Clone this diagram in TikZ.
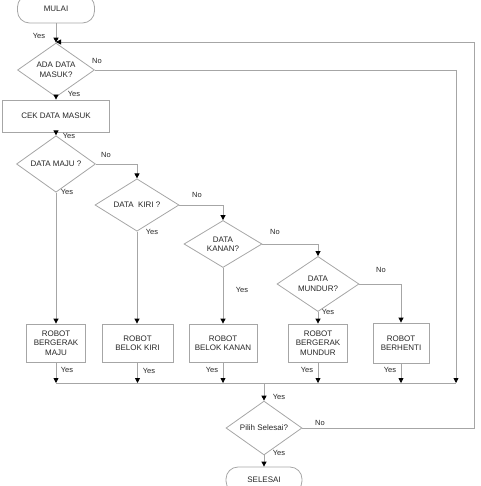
\documentclass[tikz,border=0pt]{standalone}
\usepackage{fontspec}
\setmainfont{Liberation Sans}
\usetikzlibrary{shapes.geometric,arrows.meta}

\tikzset{
  line/.style={draw=black!35, line width=0.8pt},
  arr/.style={line, -{Triangle[length=5pt,width=5pt,black]}},
  term/.style={draw=black!35, line width=0.8pt, rounded corners=12pt, minimum width=77pt, minimum height=28pt, inner sep=0pt, font=\fontsize{8}{9}\selectfont, text=black!85},
  proc/.style={draw=black!35, line width=0.8pt, minimum height=38pt, inner sep=0pt, align=center, font=\fontsize{8}{9.5}\selectfont, text=black!85},
  dec/.style={diamond, draw=black!35, line width=0.8pt, inner sep=0pt, align=center, font=\fontsize{8}{9.5}\selectfont, text=black!85},
  lbl/.style={inner sep=0pt, font=\fontsize{7.5}{8}\selectfont, text=black!85}
}

\begin{document}
\begin{tikzpicture}[x=1pt,y=-1pt]
\useasboundingbox (0,0) rectangle (480,486);
\clip (0,0) rectangle (480,486);

\node[term] (start) at (56,9) {MULAI};
\node[dec, minimum width=77pt, minimum height=38pt] (ada) at (56,70) {ADA DATA\\MASUK?};
\node[proc, minimum width=107pt, minimum height=32pt] (cek) at (56,116) {CEK DATA MASUK};
\node[dec, minimum width=79pt, minimum height=46pt] (maju) at (56,164) {DATA MAJU ?};
\node[dec, minimum width=84pt, minimum height=45pt] (kiri) at (137,205) {DATA\ \ KIRI ?};
\node[dec, minimum width=78pt, minimum height=44pt] (kanan) at (223,244) {DATA\\KANAN?};
\node[dec, minimum width=82pt, minimum height=47pt] (mundur) at (318,284) {DATA\\MUNDUR?};

\node[proc, minimum width=59pt] (aMaju) at (56,343) {ROBOT\\BERGERAK\\MAJU};
\node[proc, minimum width=71pt] (aKiri) at (137.5,343) {ROBOT\\BELOK KIRI};
\node[proc, minimum width=68pt] (aKanan) at (223,343) {ROBOT\\BELOK KANAN};
\node[proc, minimum width=59pt] (aMundur) at (318,343) {ROBOT\\BERGERAK\\MUNDUR};
\node[proc, minimum width=56pt, minimum height=40pt] (aStop) at (401,343) {ROBOT\\BERHENTI};

\node[dec, minimum width=76pt, minimum height=38pt] (pilih) at (264,428) {Pilih Selesai?};
\node[term, minimum width=76pt, minimum height=26pt] (end) at (264,480) {SELESAI};

\coordinate (j0) at (56,42);
\coordinate (r1) at (474,42);
\coordinate (r2) at (474,428);
\coordinate (n1) at (456,70);
\coordinate (mL) at (56,383);
\coordinate (mC) at (264,383);
\coordinate (mR) at (456,383);

% main column
\draw[arr] (start) -- (ada);
\draw[arr] (ada) -- (cek);
\draw[arr] (cek) -- (maju);

% decision chain
\draw[arr] (maju.east) -| (kiri.north);
\draw[arr] (kiri.east) -| (kanan.north);
\draw[arr] (kanan.east) -| (mundur.north);
\draw[arr] (mundur.east) -| (aStop.north);

\draw[arr] (maju) -- (aMaju);
\draw[arr] (kiri.south) -- (kiri.south |- aKiri.north);
\draw[arr] (kanan) -- (aKanan);
\draw[arr] (mundur) -- (aMundur);

% merge
\draw[line] (mL) -- (mR);
\foreach \b in {aMaju,aKiri,aKanan,aMundur,aStop}
  \draw[arr] (\b.south) -- (\b.south |- mL);
\draw[line] (ada.east) -- (n1);
\draw[arr] (n1) -- (mR);
\draw[arr] (mC) -- (pilih);
\draw[arr] (pilih) -- (end);

% loop back
\draw[arr] (pilih.east) -- (r2) -- (r1) -- (j0);

\node[lbl] (l1) at (39,36) {Yes};
\node[lbl] (l2) at (97,61) {No};
\node[lbl] (l3) at (74,94) {Yes};
\node[lbl] (l4) at (69,136) {Yes};
\node[lbl] (l5) at (106,155) {No};
\node[lbl] (l6) at (67,192) {Yes};
\node[lbl] (l7) at (197,195) {No};
\node[lbl] (l8) at (152,232) {Yes};
\node[lbl] (l9) at (275,232) {No};
\node[lbl] (l10) at (242,290) {Yes};
\node[lbl] (l11) at (381,270) {No};
\node[lbl] (l12) at (328,312) {Yes};
\node[lbl] (l13) at (67,370) {Yes};
\node[lbl] (l14) at (149,371) {Yes};
\node[lbl] (l15) at (212,370) {Yes};
\node[lbl] (l16) at (307,370) {Yes};
\node[lbl] (l17) at (390,370) {Yes};
\node[lbl] (l18) at (279,397) {Yes};
\node[lbl] (l19) at (320,423) {No};
\node[lbl] (l20) at (279,453) {Yes};
\end{tikzpicture}
\end{document}
